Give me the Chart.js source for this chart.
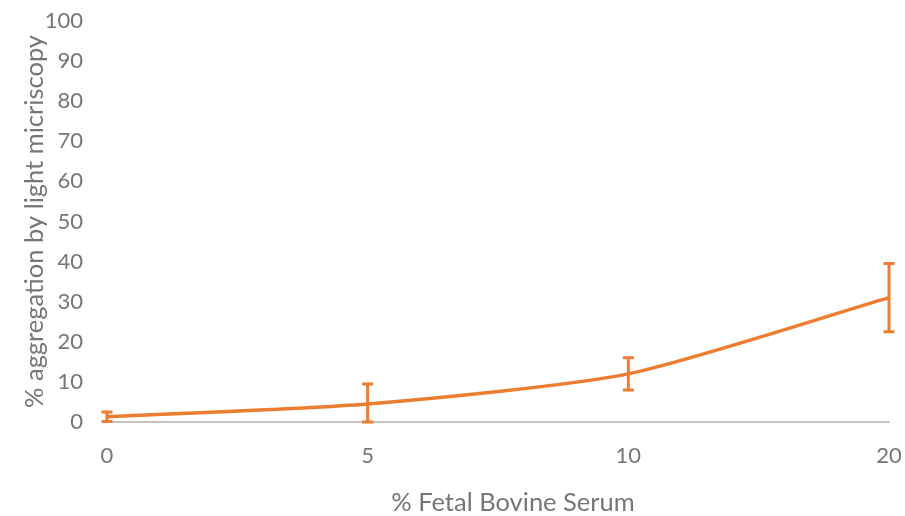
<!DOCTYPE html>
<html>
<head>
<meta charset="utf-8">
<script src="https://cdn.jsdelivr.net/npm/chart.js@4/dist/chart.umd.min.js"></script>
<style>
  html, body { margin: 0; padding: 0; background: #ffffff; }
  #wrap { width: 905px; height: 516px; position: relative; }
</style>
</head>
<body>
<div id="wrap"><canvas id="c"></canvas></div>
<script>
// Serum concentration (%) on the category axis
const serumLevels = ['0', '5', '10', '20'];
// Mean aggregation (%) observed at each level
const aggregation = [1.3, 4.5, 12, 31];
// Error (± %) for each mean
const aggregationErr = [1.2, 5, 4, 8.5];
// Y axis tick range
const yTicks = { min: 0, max: 100, step: 10 };
// Axis captions
const xCaption = '% Fetal Bovine Serum';
const yCaption = '% aggregation by light micriscopy';

const ORANGE = '#ED7D31';
const TEXT = '#767676';

// Draws vertical error bars with caps using the chart's own scales
const errorBars = {
  id: 'errorBars',
  afterDatasetsDraw(chart) {
    const { ctx, scales: { x, y } } = chart;
    ctx.save();
    ctx.strokeStyle = ORANGE;
    ctx.lineWidth = 3;
    const cap = 5.5;
    aggregation.forEach((v, i) => {
      const px = x.getPixelForValue(i);
      const top = y.getPixelForValue(v + aggregationErr[i]);
      const bot = y.getPixelForValue(Math.max(0, v - aggregationErr[i]));
      ctx.beginPath();
      ctx.moveTo(px, top); ctx.lineTo(px, bot);
      ctx.moveTo(px - cap, top); ctx.lineTo(px + cap, top);
      ctx.moveTo(px - cap, bot); ctx.lineTo(px + cap, bot);
      ctx.stroke();
    });
    ctx.restore();
  }
};

// X axis caption, set slightly right of the plot centre
const xAxisCaption = {
  id: 'xAxisCaption',
  afterDraw(chart) {
    const { ctx, chartArea } = chart;
    ctx.save();
    ctx.fillStyle = TEXT;
    ctx.font = '25.5px Lato';
    ctx.textAlign = 'center';
    ctx.textBaseline = 'middle';
    ctx.fillText(xCaption, (chartArea.left + chartArea.right) / 2 + 15, chart.height - 13);
    ctx.restore();
  }
};

new Chart(document.getElementById('c'), {
  type: 'line',
  data: {
    labels: serumLevels,
    datasets: [{
      data: aggregation,
      borderColor: ORANGE,
      borderWidth: 3.5,
      pointRadius: 0,
      tension: 0.22,
      fill: false
    }]
  },
  options: {
    responsive: true,
    maintainAspectRatio: false,
    animation: false,
    layout: { padding: { top: 21, right: 16, bottom: 0, left: 0 } },
    plugins: { legend: { display: false }, tooltip: { enabled: false } },
    scales: {
      x: {
        offset: false,
        grid: { display: false, drawTicks: false },
        border: { display: true, color: '#c4c4c4', width: 2 },
        ticks: { color: TEXT, font: { family: 'Lato', size: 22 }, padding: 21, maxRotation: 0 },
        title: { display: false },
        afterFit(scale) { scale.height = 94; scale.paddingLeft = 0; scale.paddingRight = 0; }
      },
      y: {
        min: yTicks.min,
        max: yTicks.max,
        grid: { display: false, drawTicks: false },
        border: { display: false },
        ticks: { stepSize: yTicks.step, color: TEXT, font: { family: 'Lato', size: 22 }, padding: 24 },
        title: { display: true, text: yCaption, color: TEXT, font: { family: 'Lato', size: 25.5, lineHeight: 1.2 }, padding: { top: 19, bottom: 0 } },
        afterFit(scale) { scale.width = 107; scale.paddingTop = 0; scale.paddingBottom = 0; }
      }
    }
  },
  plugins: [errorBars, xAxisCaption]
});
</script>
</body>
</html>
